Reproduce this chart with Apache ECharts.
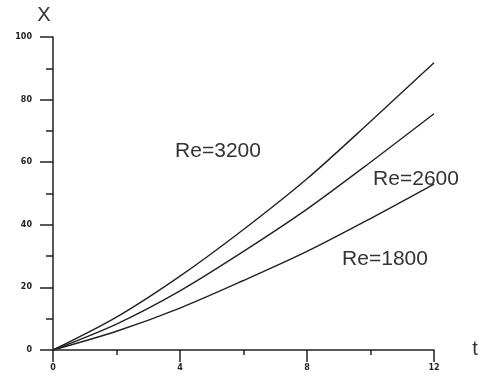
<!DOCTYPE html>
<html>
<head>
<meta charset="utf-8">
<script src="https://cdn.jsdelivr.net/npm/echarts@6/dist/echarts.min.js"></script>
<style>html,body{margin:0;padding:0;background:#fff}#c{width:480px;height:381px}</style>
</head>
<body>
<div id="c"></div>
<script>
var tValues = [0, 2, 4, 6, 8, 10, 12];
var re3200 = [0, 10.5, 23.6, 38.5, 54.7, 73.0, 91.8];
var re2600 = [0, 8.3, 18.9, 31.5, 45.0, 60.0, 75.5];
var re1800 = [0, 6.0, 13.4, 22.2, 31.5, 42.0, 53.0];
var seriesNames = ['Re=3200', 'Re=2600', 'Re=1800'];
var yTicks = [0, 20, 40, 60, 80, 100];
var xTicks = [0, 4, 8, 12];

function pairs(ys) { return tValues.map(function (t, i) { return [t, ys[i]]; }); }

var chart = echarts.init(document.getElementById('c'), null, {renderer: 'canvas'});
var axisCol = '#222';
var lineStyle = {color: '#222', width: 1.4};
var tickLabel = {color: '#222', fontSize: 8, fontWeight: 'bold', fontFamily: 'DejaVu Sans'};
chart.setOption({
  animation: false,
  grid: {left: 53, right: 46, top: 37, bottom: 31},
  xAxis: {
    type: 'value', min: 0, max: 12, interval: 4,
    axisLine: {show: true, onZero: false, lineStyle: {color: axisCol, width: 1.5}},
    axisTick: {show: true, length: 12, lineStyle: {color: axisCol, width: 1.5}},
    minorTick: {show: true, splitNumber: 2, length: 5, lineStyle: {color: axisCol, width: 1.5}},
    splitLine: {show: false},
    axisLabel: Object.assign({margin: 14}, tickLabel)
  },
  yAxis: {
    type: 'value', min: 0, max: 100, interval: 20,
    axisLine: {show: true, onZero: false, lineStyle: {color: axisCol, width: 1.5}},
    axisTick: {show: true, length: 13, lineStyle: {color: axisCol, width: 1.5}},
    minorTick: {show: true, splitNumber: 2, length: 7, lineStyle: {color: axisCol, width: 1.5}},
    splitLine: {show: false},
    axisLabel: Object.assign({margin: 21}, tickLabel)
  },
  series: [
    {name: seriesNames[0], type: 'line', smooth: 0.3, symbol: 'none', data: pairs(re3200), lineStyle: lineStyle},
    {name: seriesNames[1], type: 'line', smooth: 0.3, symbol: 'none', data: pairs(re2600), lineStyle: lineStyle},
    {name: seriesNames[2], type: 'line', smooth: 0.3, symbol: 'none', data: pairs(re1800), lineStyle: lineStyle}
  ],
  graphic: [
    {type: 'text', x: 218, y: 151, style: {text: seriesNames[0], fill: '#333', font: '21px "Liberation Sans"', align: 'center', verticalAlign: 'middle'}},
    {type: 'text', x: 416, y: 179, style: {text: seriesNames[1], fill: '#333', font: '21px "Liberation Sans"', align: 'center', verticalAlign: 'middle'}},
    {type: 'text', x: 385, y: 259, style: {text: seriesNames[2], fill: '#333', font: '21px "Liberation Sans"', align: 'center', verticalAlign: 'middle'}},
    {type: 'text', x: 44, y: 15, style: {text: 'X', fill: '#333', font: '20px "Liberation Sans"', align: 'center', verticalAlign: 'middle'}},
    {type: 'text', x: 475, y: 349, style: {text: 't', fill: '#333', font: '20px "Liberation Sans"', align: 'center', verticalAlign: 'middle'}}
  ]
});
</script>
</body>
</html>
